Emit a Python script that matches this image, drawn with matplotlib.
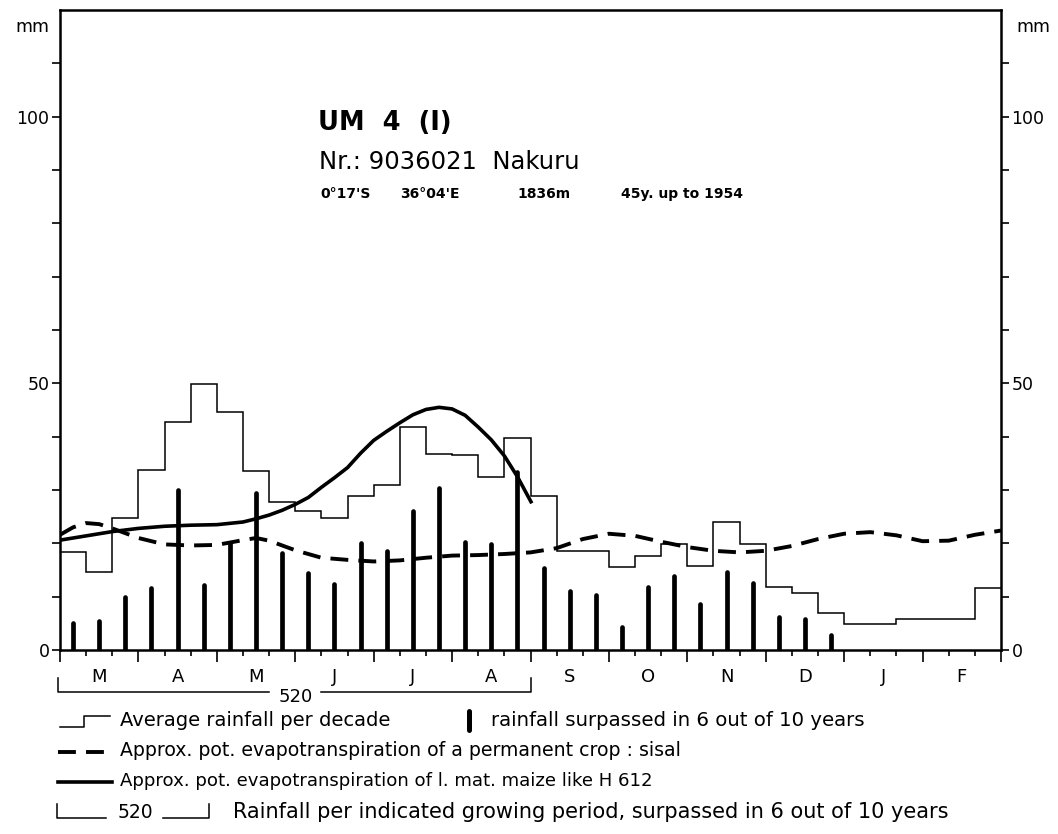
import numpy as np
import matplotlib.pyplot as plt

plt.rcParams['font.family'] = ['DejaVu Sans']

# decades of the year, starting in March
months = ["M", "A", "M", "J", "J", "A", "S", "O", "N", "D", "J", "F"]

# average rainfall per decade (mm)
rain_avg = [18.4, 14.7, 24.8, 33.8, 42.8, 49.8, 44.7, 33.6, 27.8, 26.0, 24.7, 28.8,
            30.9, 41.9, 36.8, 36.6, 32.5, 39.7, 28.9, 18.6, 18.6, 15.6, 17.6, 19.8,
            15.8, 24.0, 19.8, 11.8, 10.6, 6.9, 4.8, 4.8, 5.8, 5.8, 5.8, 11.7]

# rainfall surpassed in 6 out of 10 years, per decade (mm)
rain_60 = [5.1, 5.4, 10.0, 11.6, 30.0, 12.1, 20.1, 29.4, 18.1, 14.4, 12.4, 20.0,
           18.6, 26.1, 30.3, 20.3, 19.8, 33.3, 15.3, 11.1, 10.3, 4.4, 11.9, 13.9,
           8.6, 14.7, 12.6, 6.2, 5.9, 2.8]

# potential evapotranspiration, permanent crop (sisal)
sisal_x = [0, 0.5, 1, 1.5, 2, 3, 4, 5, 6, 7, 7.5, 8, 9, 10, 11, 12, 13, 14, 15, 16,
           17, 18, 19, 20, 21, 22, 23, 24, 25, 26, 27, 28, 29, 30, 31, 32, 33, 34, 35, 36]
sisal_y = [21.6, 23.0, 23.8, 23.6, 22.8, 21.0, 19.8, 19.6, 19.7, 20.6, 21.0, 20.5,
           18.7, 17.3, 16.9, 16.6, 16.8, 17.3, 17.7, 17.8, 18.0, 18.3, 19.1, 20.8,
           21.8, 21.4, 20.3, 19.3, 18.6, 18.3, 18.6, 19.5, 20.8, 21.8, 22.1, 21.5,
           20.4, 20.5, 21.6, 22.4]

# potential evapotranspiration, late maturing maize (H 612)
maize_x = [0, 1, 2, 3, 4, 5, 6, 7, 7.5, 8, 8.5, 9, 9.5, 10, 10.5, 11, 11.5, 12, 12.5,
           13, 13.5, 14, 14.5, 15, 15.5, 16, 16.5, 17, 17.5, 18.05]
maize_y = [20.6, 21.4, 22.2, 22.8, 23.2, 23.4, 23.5, 24.0, 24.6, 25.3, 26.2, 27.3,
           28.6, 30.5, 32.3, 34.2, 36.9, 39.3, 41.0, 42.6, 44.1, 45.1, 45.5, 45.2,
           44.0, 41.8, 39.4, 36.4, 32.5, 27.5]

period_start, period_end, period_total = 0, 18, 520

fig = plt.figure(figsize=(10.58, 8.34), dpi=100)
ax = fig.add_axes([60 / 1058, 1 - 650 / 834, 941 / 1058, 640 / 834])

edges = np.arange(len(rain_avg) + 1)
ax.stairs(rain_avg, edges, baseline=None, color="black", lw=1.1)

centers = np.arange(len(rain_60)) + 0.5
ax.vlines(centers, 0, rain_60, color="black", lw=3.4, capstyle="round")

ax.plot(sisal_x, sisal_y, color="black", lw=2.8, dashes=(4.6, 2.6))
ax.plot(maize_x, maize_y, color="black", lw=2.6, solid_capstyle="butt")

ax.set_xlim(0, 36)
ax.set_ylim(0, 120)
for s in ax.spines.values():
    s.set_linewidth(1.8)

ax.set_xticks(np.arange(0, 37, 3))
ax.set_xticks(np.arange(0, 37), minor=True)
ax.tick_params(axis="x", which="major", length=8.5, width=1.2, direction="out", labelbottom=False)
ax.tick_params(axis="x", which="minor", length=4, width=1.2, direction="out")
ax.set_yticks(np.arange(0, 111, 10))
ax.set_yticklabels(["0", "", "", "", "", "50", "", "", "", "", "100", ""])
ax.tick_params(axis="y", length=6, width=1.2, direction="out", labelsize=12.5,
               left=True, right=True, labelleft=True, labelright=True, pad=1.5)

ax.text(-28 / 26.1, 116.8, "mm", ha="center", va="center", fontsize=12.5)
ax.text(36 + 32 / 26.1, 116.8, "mm", ha="center", va="center", fontsize=12.5)

for i, m in enumerate(months):
    ax.text(3 * i + 1.5, -5.1, m, ha="center", va="center", fontsize=13, clip_on=False)

# growing period bracket under the axis
y_lo, y_hi = -7.9, -5.3
mid = (period_start + period_end) / 2
ax.plot([period_start - 0.08, period_start - 0.08, mid - 1.0], [y_hi, y_lo, y_lo],
        color="black", lw=1.1, clip_on=False)
ax.plot([mid + 1.0, period_end, period_end], [y_lo, y_lo, y_hi],
        color="black", lw=1.1, clip_on=False)
ax.text(mid, -8.9, str(period_total), ha="center", va="center", fontsize=13, clip_on=False)

ax.text(9.88, 98.8, "UM  4  (I)", fontsize=18.5, fontweight="bold", va="center")
ax.text(9.9, 91.5, "Nr.: 9036021  Nakuru", fontsize=17.5, va="center")
for px, part in [(320, "0°17'S"), (400, "36°04'E"), (517, "1836m"), (620, "45y. up to 1954")]:
    ax.text((px - 60) / 26.1, 85.5, part, fontsize=10, fontweight="bold", va="center")

# key below the chart, in pixel coordinates
key = fig.add_axes([0, 0, 1, 1])
key.set_xlim(0, 1058)
key.set_ylim(834, 0)
key.axis("off")

key.plot([60, 84, 84, 110], [727, 727, 716, 716], color="black", lw=1.1)
key.text(120, 721, "Average rainfall per decade", va="center", fontsize=14)
key.plot([469, 469], [711, 730], color="black", lw=3.6, solid_capstyle="round")
key.text(491, 721, "rainfall surpassed in 6 out of 10 years", va="center", fontsize=14.2)

key.plot([58, 112], [752, 752], color="black", lw=2.8, dashes=(4.6, 2.6))
key.text(120, 751, "Approx. pot. evapotranspiration of a permanent crop : sisal",
         va="center", fontsize=13.6)

key.plot([58, 112], [782, 782], color="black", lw=2.6)
key.text(120, 781, "Approx. pot. evapotranspiration of l. mat. maize like H 612",
         va="center", fontsize=13.1)

key.plot([57, 57, 106], [804, 818, 818], color="black", lw=1.1)
key.plot([163, 209, 209], [818, 818, 804], color="black", lw=1.1)
key.text(135, 812, "520", ha="center", va="center", fontsize=13.5)
key.text(233, 812, "Rainfall per indicated growing period, surpassed in 6 out of 10 years",
         va="center", fontsize=15)

fig.savefig("out.png", dpi=100)
